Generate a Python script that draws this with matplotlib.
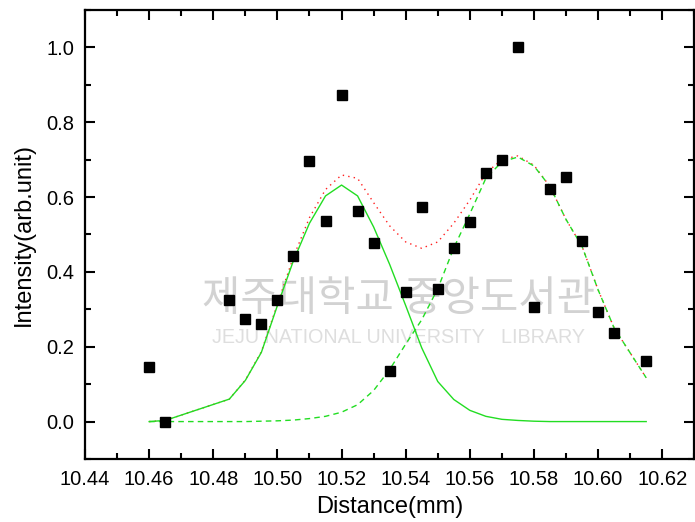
import matplotlib
matplotlib.use("Agg")
import matplotlib.pyplot as plt
from matplotlib.ticker import MultipleLocator, FormatStrFormatter

# measured points
dist = [10.46, 10.465, 10.485, 10.49, 10.495, 10.50, 10.505, 10.51, 10.515, 10.52,
        10.525, 10.53, 10.535, 10.54, 10.545, 10.55, 10.555, 10.56, 10.565, 10.57,
        10.575, 10.58, 10.585, 10.59, 10.595, 10.60, 10.605, 10.615]
intensity = [0.145, 0.0, 0.325, 0.275, 0.262, 0.325, 0.443, 0.696, 0.536, 0.872,
             0.563, 0.477, 0.136, 0.347, 0.573, 0.355, 0.464, 0.533, 0.664, 0.699,
             1.0, 0.307, 0.621, 0.653, 0.483, 0.293, 0.237, 0.163]

# fitted peaks
peak1 = [0.0, 0.003, 0.06, 0.11, 0.185, 0.31, 0.43, 0.53, 0.603, 0.632,
         0.603, 0.52, 0.42, 0.31, 0.197, 0.107, 0.059, 0.03, 0.014, 0.006,
         0.003, 0.001, 0.0, 0.0, 0.0, 0.0, 0.0, 0.0]
peak2 = [0.0, 0.0, 0.0, 0.0, 0.001, 0.002, 0.004, 0.008, 0.014, 0.025,
         0.045, 0.083, 0.139, 0.207, 0.272, 0.355, 0.464, 0.555, 0.65, 0.694,
         0.707, 0.683, 0.628, 0.54, 0.468, 0.352, 0.25, 0.117]
total = [0.0, 0.003, 0.06, 0.111, 0.187, 0.314, 0.44, 0.545, 0.62, 0.659,
         0.65, 0.585, 0.523, 0.48, 0.463, 0.48, 0.53, 0.592, 0.664, 0.70,
         0.71, 0.685, 0.628, 0.54, 0.468, 0.352, 0.25, 0.117]

plt.rcParams['font.family'] = ['Liberation Sans', 'DejaVu Sans']

fig = plt.figure(figsize=(6.95, 5.22), dpi=100)
ax = fig.add_axes([0.1223, 0.1207, 0.8767, 0.8603])

# watermark (drawn behind the axes)
fig.text(0.573, 0.426, "제주대학교 중앙도서관", fontsize=30, color='#d2d2d2',
         family=['Noto Sans CJK KR'], ha='center', va='center', zorder=-1)
fig.text(0.573, 0.354, "JEJU NATIONAL UNIVERSITY   LIBRARY", fontsize=14.2, color='#dedede',
         ha='center', va='center', zorder=-1)

ax.patch.set_alpha(0)
ax.plot(dist, total, color='#ff2020', ls=(0, (1, 3)), lw=1.0, zorder=2)
ax.plot(dist, peak2, color='#22dd22', ls=(0, (4, 3)), lw=1.0, zorder=3)
ax.plot(dist, peak1, color='#22dd22', ls='-', lw=1.0, zorder=3)
ax.plot(dist, intensity, 's', color='black', ms=7.5, zorder=4)

ax.set_xlim(10.44, 10.63)
ax.set_ylim(-0.1, 1.1)
ax.xaxis.set_major_locator(MultipleLocator(0.02))
ax.xaxis.set_minor_locator(MultipleLocator(0.01))
ax.yaxis.set_major_locator(MultipleLocator(0.2))
ax.yaxis.set_minor_locator(MultipleLocator(0.1))
ax.xaxis.set_major_formatter(FormatStrFormatter('%.2f'))
ax.yaxis.set_major_formatter(FormatStrFormatter('%.1f'))

ax.tick_params(which='both', direction='in', top=True, right=True, width=1.5)
ax.tick_params(which='major', length=7, labelsize=14.5, pad=8)
ax.tick_params(which='minor', length=4)
for s in ax.spines.values():
    s.set_linewidth(1.6)

ax.set_xlabel("Distance(mm)", fontsize=17, labelpad=5)
ax.set_ylabel("Intensity(arb.unit)", fontsize=17, labelpad=8)

fig.savefig("out.png", dpi=100)
